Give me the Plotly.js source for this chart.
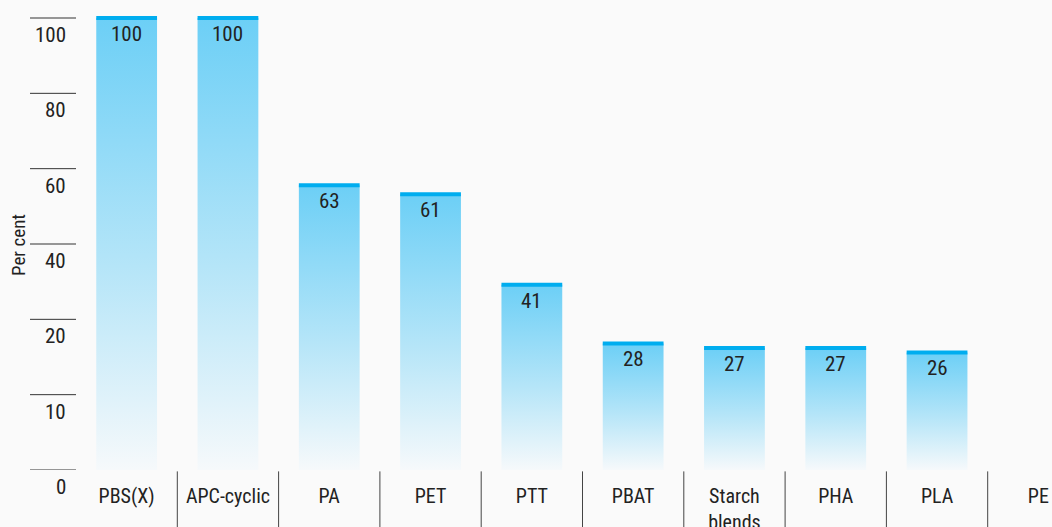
<!DOCTYPE html>
<html>
<head>
<meta charset="utf-8">
<script src="https://cdn.plot.ly/plotly-3.0.1.min.js"></script>
<style>html,body{margin:0;padding:0;background:#fafafa;}</style>
</head>
<body>
<div id="chart" style="width:1052px;height:527px;"></div>
<script>
const categories = ["PBS(X)", "APC-cyclic", "PA", "PET", "PTT", "PBAT", "Starch<br>blends", "PHA", "PLA", "PE"];
const values = [100, 100, 63, 61, 41, 28, 27, 27, 26, null];
const yTickVals = [0, 100/6, 200/6, 50, 400/6, 500/6, 100];
const yTickText = ["0", "10", "20", "40", "60", "80", "100"];

const FONT = "'Liberation Sans Narrow', 'Roboto Condensed', 'DejaVu Sans Condensed', Roboto, sans-serif";
const HALF = 0.3;
const traces = [];
const annotations = [];
categories.forEach((c, i) => {
  const v = values[i];
  if (v === null || v === undefined) return;
  traces.push({
    type: 'scatter', mode: 'lines', hoverinfo: 'skip', showlegend: false,
    x: [i - HALF, i + HALF, i + HALF, i - HALF, i - HALF],
    y: [0, 0, v, v, 0],
    fill: 'toself', line: {width: 0},
    fillgradient: {type: 'vertical', colorscale: [[0, '#f6f9fb'], [0.45, '#b5e5f8'], [1, '#6ccff6']]}
  });
  traces.push({
    type: 'scatter', mode: 'lines', hoverinfo: 'skip', showlegend: false,
    x: [i - HALF, i + HALF], y: [v, v],
    line: {color: '#00adef', width: 4}
  });
  annotations.push({
    xref: 'x', yref: 'y', x: i, y: v, xanchor: 'center', yanchor: 'top',
    yshift: -2, showarrow: false, text: String(v),
    font: {family: FONT, size: 21, color: '#222'}
  });
});

const shapes = [];
yTickVals.forEach(v => {
  shapes.push({type: 'line', xref: 'paper', yref: 'y', x0: -46/976, x1: 0, y0: v, y1: v,
    line: {color: '#333', width: 1}});
});
for (let i = 0; i < categories.length - 1; i++) {
  shapes.push({type: 'line', xref: 'x', yref: 'paper', x0: i + 0.5, x1: i + 0.5, y0: -0.003, y1: -0.2,
    line: {color: '#444', width: 1}});
}
yTickVals.forEach((v, k) => annotations.push({
  xref: 'paper', yref: 'y', x: 0, y: v, xanchor: 'right', yanchor: 'top',
  xshift: -8, yshift: -3, showarrow: false, text: yTickText[k],
  font: {family: FONT, size: 21, color: '#222'}
}));
annotations.push({
  xref: 'paper', yref: 'paper', x: -58/976, y: (470-245)/460, xanchor: 'center', yanchor: 'middle',
  textangle: -90, showarrow: false, text: 'Per cent',
  font: {family: FONT, size: 19, color: '#222'}
});

const layout = {
  width: 1052, height: 527,
  margin: {l: 76, r: 0, t: 10, b: 57},
  paper_bgcolor: '#fafafa', plot_bgcolor: '#fafafa',
  showlegend: false,
  xaxis: {
    range: [-0.5, -0.5 + 976/101.3],
    tickmode: 'array', tickvals: categories.map((c, i) => i), ticktext: categories,
    ticks: 'outside', ticklen: 8, tickcolor: 'rgba(0,0,0,0)',
    showgrid: false, zeroline: false, showline: false,
    tickfont: {family: FONT, size: 20, color: '#222'}
  },
  yaxis: {
    range: [0, 100*460/452],
    showticklabels: false, ticks: '', showgrid: false, zeroline: false, showline: false
  },
  shapes: shapes,
  annotations: annotations
};
Plotly.newPlot('chart', traces, layout, {displayModeBar: false, staticPlot: true});
</script>
</body>
</html>
